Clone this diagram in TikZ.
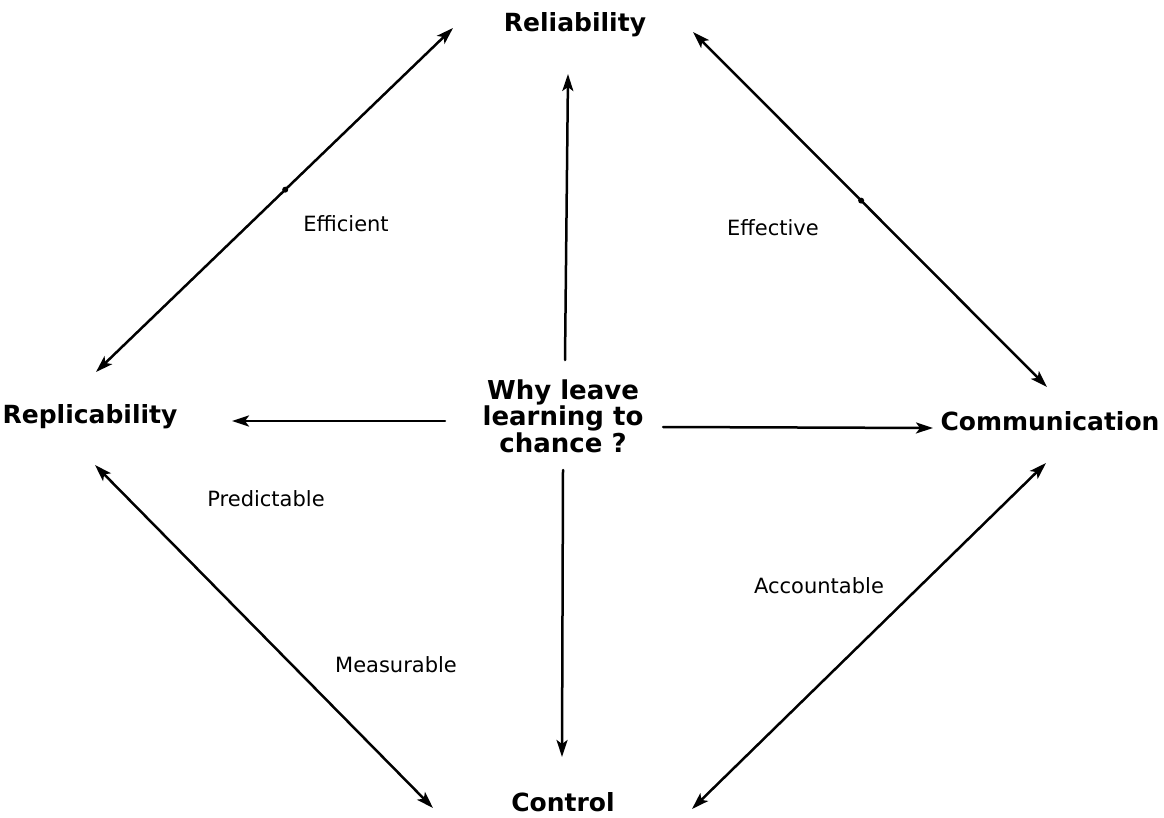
\documentclass[tikz,border=0pt]{standalone}
\usepackage{fontspec}
\setmainfont{DejaVu Sans}
\usetikzlibrary{arrows.meta}
\begin{document}
\begin{tikzpicture}[x=1pt,y=-1pt,
  conn/.style={line width=2.5pt,line cap=round},
  both/.style={conn,{Stealth[length=17pt,width=11pt,inset=4pt]}-{Stealth[length=17pt,width=11pt,inset=4pt]}},
  toend/.style={conn,-{Stealth[length=17pt,width=11pt,inset=4pt]}},
  topic/.style={font=\fontsize{25}{28}\selectfont\bfseries,inner sep=0pt},
  hub/.style={font=\fontsize{26}{25}\selectfont\bfseries,align=center,inner sep=0pt},
  quality/.style={font=\fontsize{21}{23}\selectfont,inner sep=0pt},
  dotmark/.style={circle,fill=black,inner sep=0pt,minimum size=6pt}]
\useasboundingbox (0,0) rectangle (1164,818);

% the four outcomes around the question
\node[topic] (rel) at (575,25) {Reliability};
\node[topic] (rep) at (90,417) {Replicability};
\node[topic] (com) at (1050,421) {Communication};
\node[topic] (ctl) at (563,802) {Control};

% the central question
\node[hub] (why) at (563,416) {Why leave\\learning to\\chance ?};

% qualities written beside the links
\node[quality] (eff1) at (346,224) {Efficient};
\node[quality] (eff2) at (773,228) {Effective};
\node[quality] (pre) at (266,499) {Predictable};
\node[quality] (mea) at (396,665) {Measurable};
\node[quality] (acc) at (819,586) {Accountable};

% link end points
\coordinate (relL) at (453,28);
\coordinate (repT) at (96,372);
\coordinate (relR) at (693,32);
\coordinate (comT) at (1047,387);
\coordinate (repB) at (95,465);
\coordinate (ctlL) at (433,808);
\coordinate (comB) at (1046,463);
\coordinate (ctlR) at (692,809);
\coordinate (whyT) at (565,360);
\coordinate (relB) at (568,74);
\coordinate (whyB) at (563,470);
\coordinate (ctlT) at (562,757);
\coordinate (whyL) at (445,421);
\coordinate (repR) at (232,421);
\coordinate (whyR) at (663,427);
\coordinate (comL) at (933,428);

% outer diamond of two-way links
\draw[both] (relL) -- node[dotmark,pos=0.47] (m1) {} (repT);
\draw[both] (relR) -- node[dotmark,pos=0.475] (m2) {} (comT);
\draw[both] (repB) -- (ctlL);
\draw[both] (comB) -- (ctlR);

% spokes from the question outwards
\draw[toend] (whyT) -- (relB);
\draw[toend] (whyB) -- (ctlT);
\draw[toend] (whyL) -- (repR);
\draw[toend] (whyR) -- (comL);
\end{tikzpicture}
\end{document}
